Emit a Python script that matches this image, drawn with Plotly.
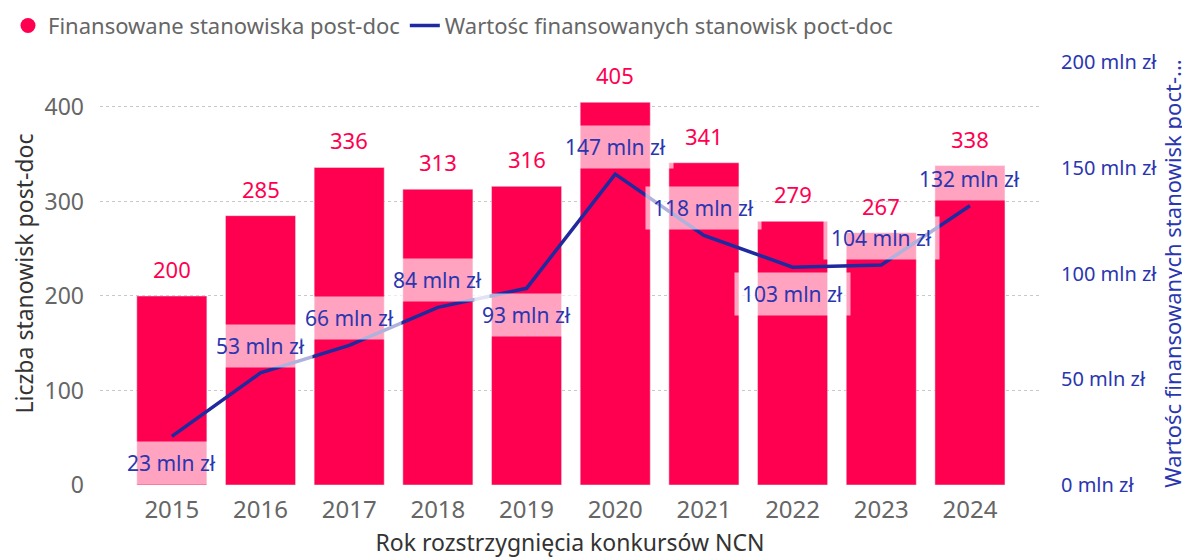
import plotly.graph_objects as go

years = ["2015", "2016", "2017", "2018", "2019", "2020", "2021", "2022", "2023", "2024"]
positions = [200, 285, 336, 313, 316, 405, 341, 279, 267, 338]
value_mln = [23, 53, 66, 84, 93, 147, 118, 103, 104, 132]
label_side = ["below", "above", "above", "above", "below", "above", "above", "below", "above", "above"]
left_ticks = [0, 100, 200, 300, 400]
right_ticks = [0, 50, 100, 150, 200]
right_tick_text = ["0 mln zł", "50 mln zł", "100 mln zł", "150 mln zł", "200 mln zł"]

bar_color = "#FF0050"
line_color = "#1F2A9E"
label_blue = "#2A36B0"
font_family = "Noto Sans, Open Sans, sans-serif"

fig = go.Figure()
fig.add_trace(go.Bar(x=years, y=positions, marker_color=bar_color, showlegend=False, yaxis="y"))
fig.add_trace(go.Scatter(x=years, y=value_mln, mode="lines", line=dict(color=line_color, width=3.5),
                         yaxis="y2", showlegend=False))
# legend entries
fig.add_trace(go.Scatter(x=[years[0]], y=[None], mode="markers", name="Finansowane stanowiska post-doc",
                         marker=dict(symbol="circle", size=15, color=bar_color)))
fig.add_trace(go.Scatter(x=[years[0]], y=[None], mode="lines", name="Wartośc finansowanych stanowisk poct-doc",
                         line=dict(color=line_color, width=3.5), yaxis="y2"))

annotations = []
for i, v in enumerate(positions):
    annotations.append(dict(x=i, y=v, xref="x", yref="y", text=str(v), showarrow=False,
                            yshift=27, font=dict(size=22, color=bar_color, family=font_family)))
for i, (v, side) in enumerate(zip(value_mln, label_side)):
    annotations.append(dict(x=i, y=v, xref="x", yref="y2", text=f"{v} mln zł", showarrow=False,
                            yshift=27 if side == "above" else -27,
                            bgcolor="rgba(255,255,255,0.64)", borderpad=7,
                            font=dict(size=21, color=label_blue, family=font_family)))

fig.update_layout(
    width=1182, height=552,
    margin=dict(l=92, r=150, t=54, b=75, autoexpand=False),
    paper_bgcolor="white", plot_bgcolor="white",
    font=dict(family=font_family),
    bargap=0.21,
    annotations=annotations,
    legend=dict(orientation="h", xref="container", x=0, xanchor="left",
                yref="container", y=0.968, yanchor="middle",
                font=dict(size=22, color="#666666"), itemwidth=30, tracegroupgap=0),
    xaxis=dict(type="category", range=[-0.81, 9.79], showgrid=False, zeroline=False,
               tickfont=dict(size=24, color="#666666"), ticks="", ticklabelstandoff=8,
               title=dict(text="Rok rozstrzygnięcia konkursów NCN", font=dict(size=23, color="#333333"),
                          standoff=10)),
    yaxis=dict(range=[0, 447.6], tickvals=left_ticks, showgrid=True,
               gridcolor="#C8C8C8", griddash="dot", gridwidth=1, zeroline=False,
               tickfont=dict(size=23, color="#666666"), ticklabelstandoff=15,
               title=dict(text="Liczba stanowisk post-doc", font=dict(size=23, color="#333333"),
                          standoff=4)),
    yaxis2=dict(range=[0, 200], overlaying="y", side="right", tickvals=right_ticks,
                ticktext=right_tick_text,
                showgrid=False, zeroline=False, ticklabelstandoff=20,
                tickfont=dict(size=20, color=label_blue),
                title=dict(text="Wartośc finansowanych stanowisk poct-...", font=dict(size=22, color=label_blue),
                           standoff=8)),
)

fig.write_html("out.html")
